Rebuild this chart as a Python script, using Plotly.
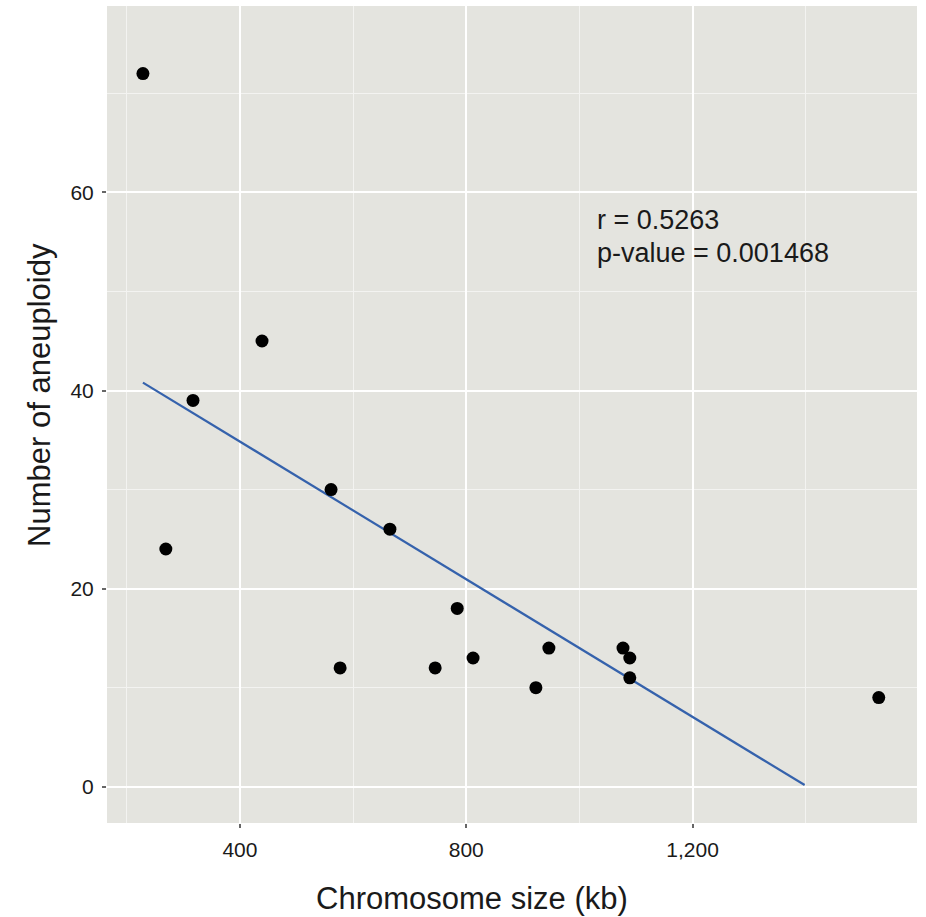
import plotly.graph_objects as go

# Data
chrom_size_kb = [228.5, 269, 317, 439, 561, 577, 665, 745, 784, 812, 923, 946, 1077, 1089, 1089, 1529]
aneuploidy = [72, 24, 39, 45, 30, 12, 26, 12, 18, 13, 10, 14, 14, 13, 11, 9]

line_x = [228.5, 1398]
line_y = [40.8, 0.17]

annot_lines = ["r = 0.5263", "p-value = 0.001468"]
x_title = "Chromosome size (kb)"
y_title = "Number of aneuploidy"

FONT = "Liberation Sans, Arial, Helvetica, sans-serif"
TXT = "#1a1a1a"

fig = go.Figure()
fig.add_trace(go.Scatter(x=line_x, y=line_y, mode="lines",
                         line=dict(color="#3562AC", width=2.2), hoverinfo="skip"))
fig.add_trace(go.Scatter(x=chrom_size_kb, y=aneuploidy, mode="markers",
                         marker=dict(color="black", size=13, line=dict(width=0))))

for txt, yy in zip(annot_lines, [57.2, 53.9]):
    fig.add_annotation(x=1028, y=yy, xref="x", yref="y", xanchor="left", yanchor="middle",
                       text=txt, showarrow=False, align="left",
                       font=dict(family=FONT, size=27, color=TXT))

# axis titles (placed as annotations in paper coordinates)
fig.add_annotation(x=0.4506, y=-0.093, xref="paper", yref="paper", xanchor="center", yanchor="middle",
                   text=x_title, showarrow=False, font=dict(family=FONT, size=31, color=TXT))
fig.add_annotation(x=-0.0827, y=0.524, xref="paper", yref="paper", xanchor="center", yanchor="middle",
                   text=y_title, textangle=-90, showarrow=False, font=dict(family=FONT, size=31, color=TXT))

fig.update_layout(
    width=926, height=917,
    margin=dict(l=107, r=9, t=6, b=94),
    paper_bgcolor="white", plot_bgcolor="#E4E4DF",
    showlegend=False,
    font=dict(family=FONT, color=TXT),
)
fig.update_xaxes(range=[165, 1596.6], tick0=0, dtick=400, tickformat=",d",
                 showgrid=True, gridcolor="white", gridwidth=2, zeroline=False,
                 ticks="outside", ticklen=4, tickwidth=2, tickcolor="#666",
                 tickfont=dict(size=21, color=TXT), ticklabelstandoff=4,
                 minor=dict(tick0=0, dtick=200, showgrid=True, gridcolor="#F3F3F1", gridwidth=1),
                 showline=False)
fig.update_yaxes(range=[-3.66, 78.82], tick0=0, dtick=20,
                 showgrid=True, gridcolor="white", gridwidth=2, zeroline=False,
                 ticks="outside", ticklen=4, tickwidth=2, tickcolor="#666",
                 tickfont=dict(size=21, color=TXT), ticklabelstandoff=4,
                 minor=dict(tick0=0, dtick=10, showgrid=True, gridcolor="#F3F3F1", gridwidth=1),
                 showline=False)

fig.write_html("out.html")
